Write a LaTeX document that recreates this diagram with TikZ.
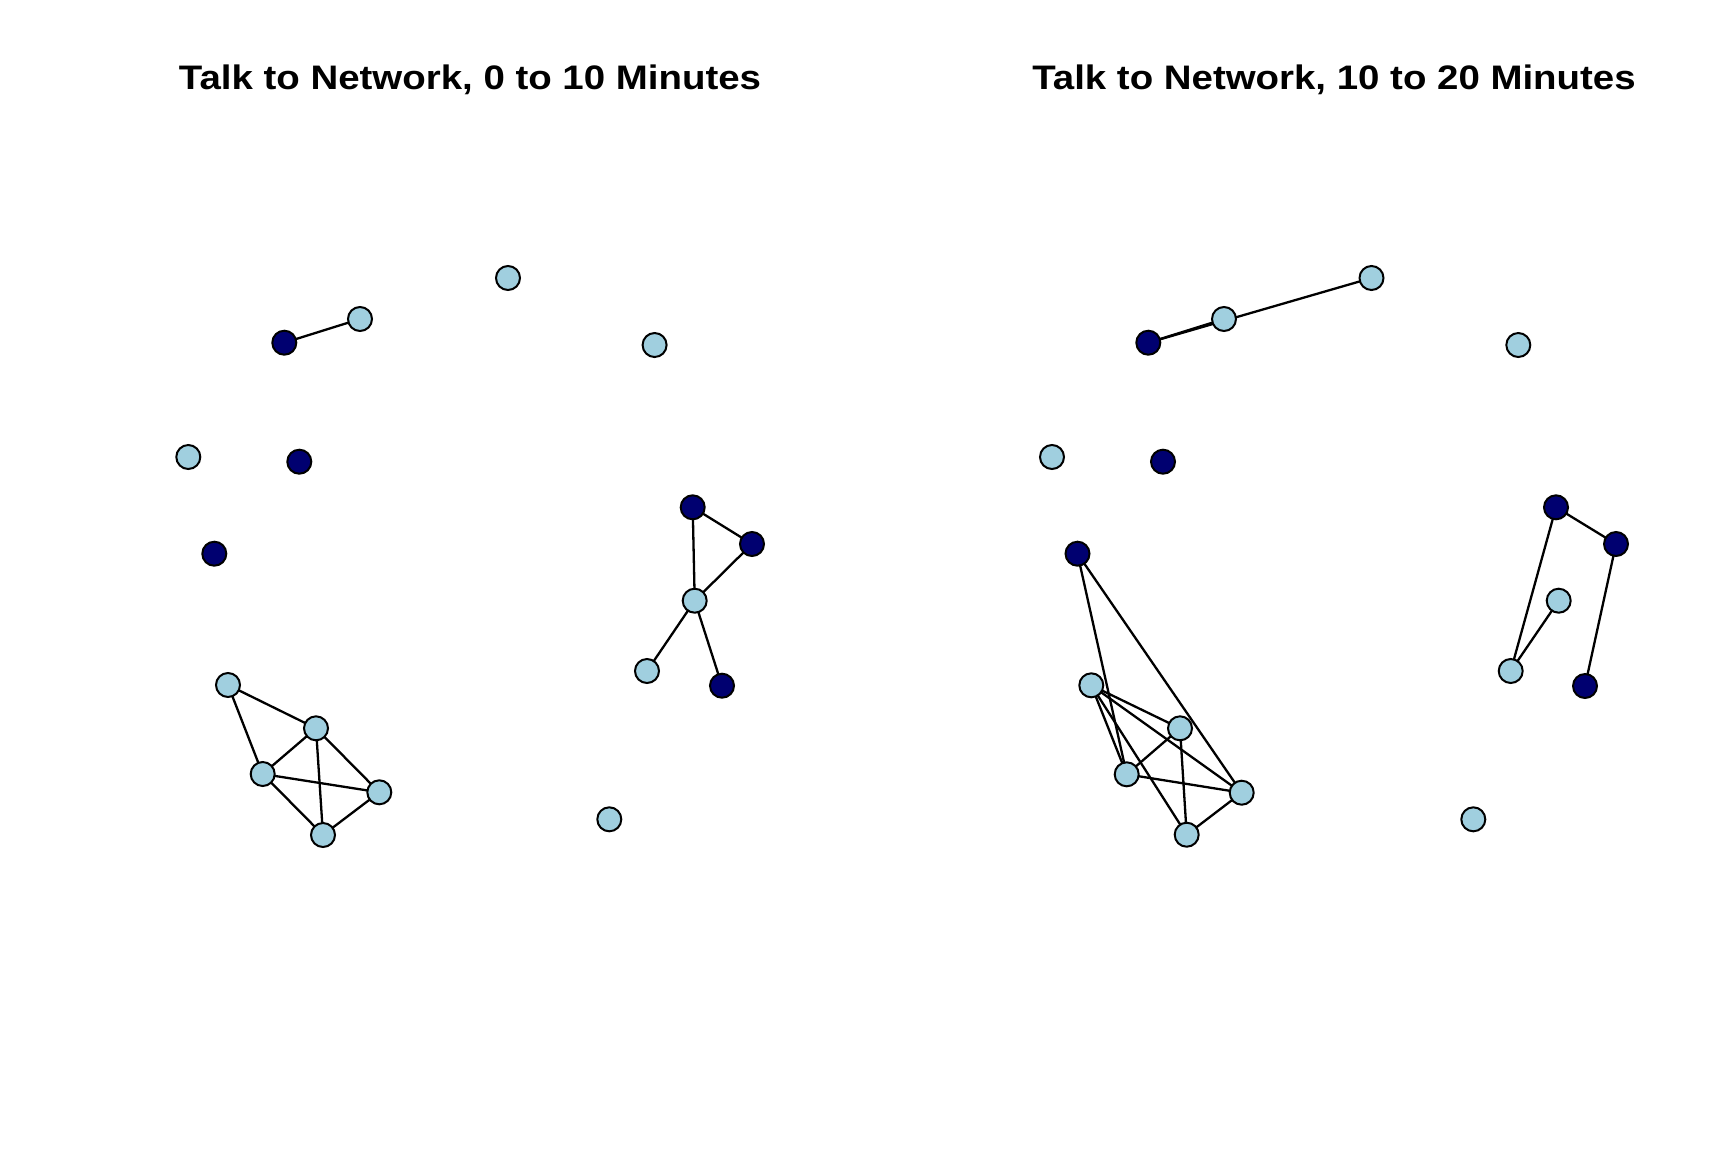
\documentclass[tikz,border=0pt]{standalone}
\usepackage{fontspec}
\setmainfont{Liberation Sans}
\usetikzlibrary{backgrounds}
\definecolor{lb}{RGB}{160,207,223}
\definecolor{nv}{RGB}{0,0,112}
\tikzset{
  vx/.style={circle,draw=black,line width=2pt,minimum size=24pt,inner sep=0pt},
  lt/.style={vx,fill=lb},
  dk/.style={vx,fill=nv},
  edge/.style={draw=black,line width=2.3pt},
  ttl/.style={font=\bfseries\fontsize{34}{40}\selectfont,inner sep=0pt,anchor=base}
}
\begin{document}
\begin{tikzpicture}[x=1pt,y=-1pt]
\useasboundingbox (0,0) rectangle (1728,1152);
\node[ttl] (t1) at (470,89) {\scalebox{1.13}[1]{Talk to Network, 0 to 10 Minutes}};
\node[ttl] (t2) at (1334,89) {\scalebox{1.13}[1]{Talk to Network, 10 to 20 Minutes}};
% left panel
\node[lt] (a1) at (508,278) {};
\node[lt] (a2) at (360,319) {};
\node[dk] (a3) at (284.3,342.7) {};
\node[lt] (a4) at (654.6,345) {};
\node[lt] (a5) at (188.3,457) {};
\node[dk] (a6) at (299.3,461.7) {};
\node[dk] (a7) at (214.3,553.7) {};
\node[lt] (aA) at (228,685) {};
\node[lt] (aB) at (316,728.3) {};
\node[lt] (aC) at (262.7,774) {};
\node[lt] (aD) at (379.3,792.3) {};
\node[lt] (aE) at (323,835) {};
\node[dk] (aP) at (692.7,507.3) {};
\node[dk] (aQ) at (752,544) {};
\node[lt] (aR) at (694.7,600.7) {};
\node[lt] (aS) at (647,671) {};
\node[dk] (aT) at (722,685.7) {};
\node[lt] (aU) at (609.3,819.3) {};
% right panel
\node[lt] (b1) at (1371.5,278) {};
\node[lt] (b2) at (1224,319) {};
\node[dk] (b3) at (1148.3,342.7) {};
\node[lt] (b4) at (1518.3,345) {};
\node[lt] (b5) at (1052,457) {};
\node[dk] (b6) at (1163,461.7) {};
\node[dk] (b7) at (1077.5,553.7) {};
\node[lt] (bA) at (1091.3,685.3) {};
\node[lt] (bB) at (1180,728.3) {};
\node[lt] (bC) at (1126.7,774.3) {};
\node[lt] (bD) at (1241.7,792.7) {};
\node[lt] (bE) at (1186.7,834.7) {};
\node[dk] (bP) at (1556,507.3) {};
\node[dk] (bQ) at (1616,544) {};
\node[lt] (bR) at (1558.7,600.7) {};
\node[lt] (bS) at (1510.7,671) {};
\node[dk] (bT) at (1585,686) {};
\node[lt] (bU) at (1473.3,819.3) {};
\begin{pgfonlayer}{background}
\path[edge] (a3.center) -- (a2.center);
\path[edge] (aA.center) -- (aB.center);
\path[edge] (aA.center) -- (aC.center);
\path[edge] (aB.center) -- (aC.center);
\path[edge] (aB.center) -- (aD.center);
\path[edge] (aB.center) -- (aE.center);
\path[edge] (aC.center) -- (aD.center);
\path[edge] (aC.center) -- (aE.center);
\path[edge] (aD.center) -- (aE.center);
\path[edge] (aP.center) -- (aQ.center);
\path[edge] (aP.center) -- (aR.center);
\path[edge] (aQ.center) -- (aR.center);
\path[edge] (aR.center) -- (aS.center);
\path[edge] (aR.center) -- (aT.center);
\path[edge] (b3.center) -- (b2.center);
\path[edge] (b3.center) -- (b1.center);
\path[edge] (b7.center) -- (bC.center);
\path[edge] (b7.center) -- (bD.center);
\path[edge] (bA.center) -- (bB.center);
\path[edge] (bA.center) -- (bC.center);
\path[edge] (bA.center) -- (bD.center);
\path[edge] (bA.center) -- (bE.center);
\path[edge] (bB.center) -- (bC.center);
\path[edge] (bB.center) -- (bE.center);
\path[edge] (bC.center) -- (bD.center);
\path[edge] (bD.center) -- (bE.center);
\path[edge] (bP.center) -- (bQ.center);
\path[edge] (bP.center) -- (bS.center);
\path[edge] (bR.center) -- (bS.center);
\path[edge] (bQ.center) -- (bT.center);
\end{pgfonlayer}
\end{tikzpicture}
\end{document}
